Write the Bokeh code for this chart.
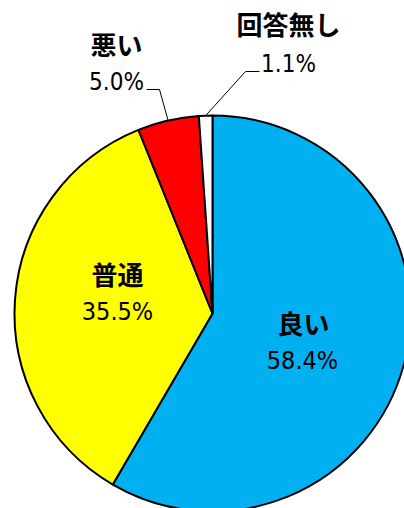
import numpy as np
from bokeh.plotting import figure
from bokeh.models import Range1d, ColumnDataSource
from bokeh.core.properties import value
from bokeh.embed import file_html
from bokeh.resources import INLINE

# data
categories = ["良い", "普通", "悪い", "回答無し"]
percents = [58.4, 35.5, 5.0, 1.1]
colors = ["#00B0F0", "#FFFF00", "#FF0000", "#FFFFFF"]
pct_labels = ["58.4%", "35.5%", "5.0%", "1.1%"]

W, H = 404, 508
p = figure(width=W, height=H, output_backend="svg", toolbar_location=None,
           x_range=Range1d(0, W), y_range=Range1d(0, H), min_border=0)
p.axis.visible = False
p.grid.visible = False
p.outline_line_color = None
p.background_fill_color = "white"

def Y(page_y):
    return H - page_y

cx, cy, r = 212, Y(313), 198

frac = np.array(percents) / sum(percents)
cum = np.concatenate([[0], np.cumsum(frac)])
start = np.pi / 2 - cum[:-1] * 2 * np.pi
end = np.pi / 2 - cum[1:] * 2 * np.pi
mid = (start + end) / 2

src = ColumnDataSource(dict(start=start, end=end, color=colors))
p.wedge(x=cx, y=cy, radius=r, start_angle="start", end_angle="end",
        direction="clock", fill_color="color", line_color="black",
        line_width=2, source=src)

# label positions (page coords): name center, pct center
name_pos = [(303, 322), (117, 273), (116, 43), (288, 23)]
pct_pos = [(302, 360), (117, 311), (116, 81), (288, 63)]
name_sizes = ["26px", "26px", "26px", "26px"]
pct_sizes = ["25px", "25px", "24px", "24px"]

digit_font = value("Liberation Sans Narrow, DejaVu Sans Condensed, Liberation Sans")

for i in range(4):
    p.text(x=[name_pos[i][0]], y=[Y(name_pos[i][1])], text=[categories[i]],
           text_align="center", text_baseline="middle",
           text_font=value("Noto Sans CJK JP"), text_font_style="bold",
           text_font_size=name_sizes[i], text_color="black")
    p.text(x=[pct_pos[i][0]], y=[Y(pct_pos[i][1])], text=[pct_labels[i]],
           text_align="center", text_baseline="middle",
           text_font=digit_font,
           text_font_size=pct_sizes[i], text_color="black")

# leader lines for small slices
elbows = {2: [(146, 89), (159, 89)], 3: [(259, 71), (245, 71)]}
for i, pts in elbows.items():
    ex = cx + r * np.cos(mid[i])
    ey = cy + r * np.sin(mid[i])
    xs = [pts[0][0], pts[1][0], ex]
    ys = [Y(pts[0][1]), Y(pts[1][1]), ey]
    p.line(xs, ys, line_color="black", line_width=1)

open("out.html", "w").write(file_html(p, INLINE))
